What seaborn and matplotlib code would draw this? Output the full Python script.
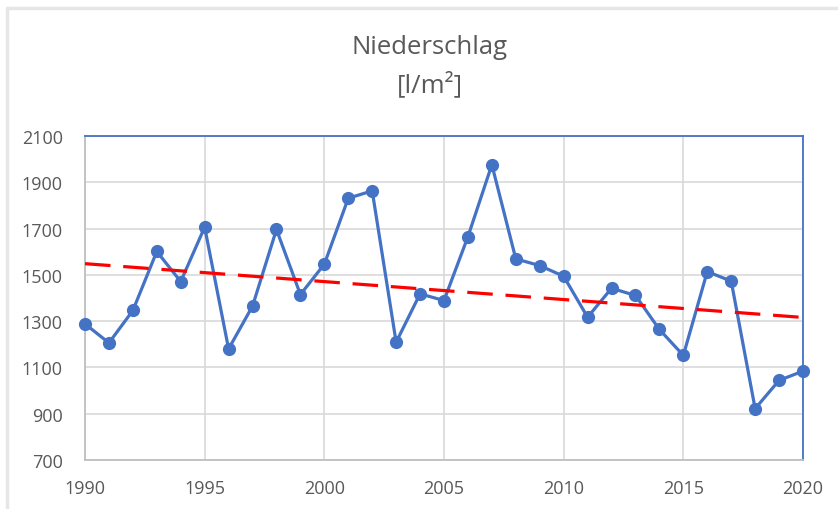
import numpy as np
import pandas as pd
import matplotlib
matplotlib.use("Agg")
import matplotlib.pyplot as plt
import seaborn as sns
from matplotlib.lines import Line2D

# --- data ---
years = list(range(1990, 2021))
niederschlag = [1288, 1206, 1346, 1601, 1471, 1706, 1180, 1365, 1696, 1415,
                1546, 1831, 1863, 1209, 1418, 1389, 1665, 1976, 1569, 1540,
                1494, 1317, 1442, 1411, 1264, 1152, 1514, 1473, 922, 1044,
                1084]
y_ticks = [700, 900, 1100, 1300, 1500, 1700, 1900, 2100]
x_ticks = [1990, 1995, 2000, 2005, 2010, 2015, 2020]
title = "Niederschlag\n[l/m²]"

df = pd.DataFrame({"Jahr": years, "Niederschlag": niederschlag})

# linear trend (Excel style trendline)
slope, intercept = np.polyfit(df["Jahr"], df["Niederschlag"], 1)
df["Trend"] = slope * df["Jahr"] + intercept

sns.set_theme(style="white")
plt.rcParams["font.family"] = ["Open Sans", "DejaVu Sans"]

blue = "#4472C4"
grey_txt = "#595959"
grid_col = "#d9d9d9"

fig = plt.figure(figsize=(8.38, 5.10), dpi=100)
ax = fig.add_axes([85 / 838, 1 - 461 / 510, (803 - 85) / 838, (461 - 137) / 510])

sns.lineplot(data=df, x="Jahr", y="Niederschlag", ax=ax, color=blue,
             linewidth=2.3, marker="o", markersize=9.5, markeredgewidth=0,
             zorder=3, clip_on=False)
sns.lineplot(data=df, x="Jahr", y="Trend", ax=ax, color="#FF0000",
             linewidth=2.3, dashes=False, zorder=4)
ax.lines[-1].set_dashes([8, 4])

ax.set_xlim(1990, 2020)
ax.set_ylim(700, 2100)
ax.set_xticks(x_ticks)
ax.set_yticks(y_ticks)
ax.set_xlabel("")
ax.set_ylabel("")
ax.grid(True, color=grid_col, linewidth=1.2, zorder=0)
ax.tick_params(axis="both", length=0, labelsize=13, labelcolor=grey_txt)
ax.tick_params(axis="x", pad=14)
ax.tick_params(axis="y", pad=16)

for side in ["top", "right"]:
    ax.spines[side].set_color(blue)
    ax.spines[side].set_linewidth(1.3)
for side in ["left", "bottom"]:
    ax.spines[side].set_color("#bfbfbf")
    ax.spines[side].set_linewidth(1.3)

fig.text(430 / 838, 1 - 67 / 510, title, ha="center", va="center",
         fontsize=18.5, color=grey_txt, linespacing=1.55)

# light outer frame of the chart object (top and left edges only visible)
fig.add_artist(Line2D([7 / 838, 7 / 838], [0, 1 - 9 / 510],
                      transform=fig.transFigure, color="#e6e6e6", linewidth=2.5))
fig.add_artist(Line2D([7 / 838, 1], [1 - 9 / 510, 1 - 9 / 510],
                      transform=fig.transFigure, color="#e6e6e6", linewidth=2.5))

fig.savefig("out.png", dpi=100)
